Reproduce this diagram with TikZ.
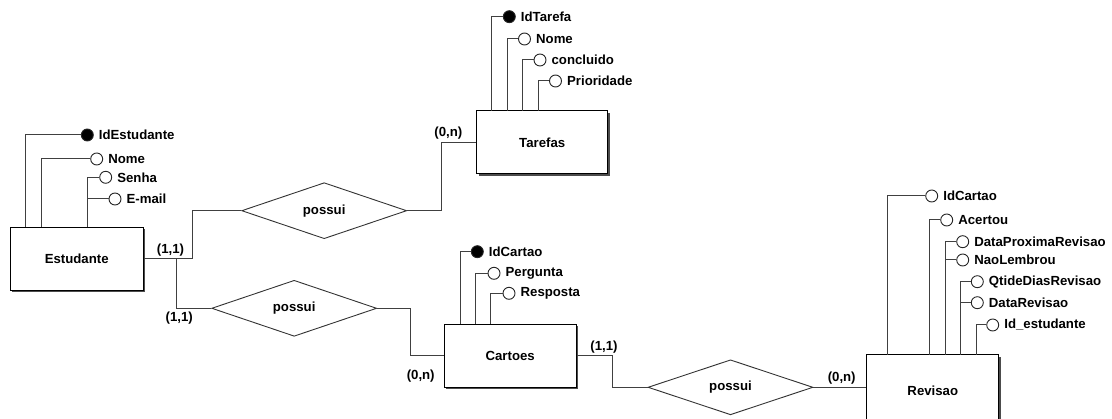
\documentclass[tikz,border=0pt]{standalone}
\usepackage{fontspec}
\setmainfont{Liberation Sans}
\usetikzlibrary{shapes.geometric,shadows}
\newcommand\erattr[7]{%
  \coordinate (#1-base) at (#2,#3);
  \node[attcirc,#7] (#1) at (#5,#4) {};
  \node[attlabel] (#1-l) at (#1.east) {#6};
  \draw[conn] (#1.west) -| (#1-base);
}
\begin{document}
\begin{tikzpicture}[x=1pt,y=-1pt,
  every node/.style={font=\fontsize{13.2}{15}\selectfont\bfseries},
  entity/.style={draw=black,line width=1pt,fill=white,rectangle,minimum width=133pt,minimum height=63pt,inner sep=0pt,
    drop shadow={shadow xshift=2pt,shadow yshift=-2pt,fill=black!70,opacity=1}},
  rel/.style={draw=black!80,line width=0.9pt,fill=white,diamond,minimum width=165pt,minimum height=56pt,inner sep=0pt},
  conn/.style={draw=black!75,line width=1pt},
  attcirc/.style={circle,draw=black!85,line width=0.9pt,fill=white,minimum size=12pt,inner sep=0pt},
  key/.style={fill=black},
  attlabel/.style={anchor=west,inner sep=0pt,xshift=5pt},
  card/.style={inner sep=0pt}]
\useasboundingbox (0,0) rectangle (1112,419);

% entities
\node[entity] (est) at (76.7,259) {Estudante};
\node[entity,minimum width=131pt] (tar) at (542.2,142.5) {Tarefas};
\node[entity,minimum width=132pt] (cart) at (510.2,355.8) {Cartoes};
\node[entity,minimum width=132pt,minimum height=72pt] (rev) at (932.8,391) {Revisao};

% relationships
\node[rel] (r1) at (324.2,210.7) {possui};
\node[rel] (r2) at (294.2,308.3) {possui};
\node[rel,minimum height=55pt] (r3) at (730.5,387.3) {possui};

% attributes of Estudante
\erattr{e1}{25.7}{227.5}{135}{87.3}{IdEstudante}{key}
\erattr{e2}{41}{227.5}{159}{96.7}{Nome}{}
\erattr{e3}{87.7}{227.5}{177.3}{105.7}{Senha}{}
\erattr{e4}{87.7}{227.5}{199}{115}{E-mail}{}

% attributes of Tarefas
\erattr{t1}{491.7}{111}{16.7}{509.3}{IdTarefa}{key}
\erattr{t2}{507.3}{111}{39}{524.5}{Nome}{}
\erattr{t3}{522.7}{111}{60}{540}{concluido}{}
\erattr{t4}{538.3}{111}{81}{555.5}{Prioridade}{}

% attributes of Cartoes
\erattr{c1}{460}{324.3}{251.7}{477.3}{IdCartao}{key}
\erattr{c2}{475}{324.3}{273.3}{494}{Pergunta}{}
\erattr{c3}{490.7}{324.3}{293.3}{509}{Resposta}{}

% attributes of Revisao
\erattr{v1}{887.3}{355}{196}{931.7}{IdCartao}{}
\erattr{v2}{929}{355}{220}{946.7}{Acertou}{}
\erattr{v3}{945}{355}{241.7}{962.7}{DataProximaRevisao}{}
\erattr{v4}{945}{355}{260}{962.7}{NaoLembrou}{}
\erattr{v5}{960}{355}{281.7}{977.3}{QtideDiasRevisao}{}
\erattr{v6}{960}{355}{302.7}{977.3}{DataRevisao}{}
\erattr{v7}{976}{355}{325}{992.7}{Id\_estudante}{}

% connectors
\coordinate (j1) at (176,259);
\draw[conn] (est.east) -- ++(48.4,0) |- (r1.west);
\draw[conn] (j1) |- (r2.west);
\draw[conn] (r1.east) -- ++(34.3,0) |- (tar.west);
\draw[conn] (r2.east) -- ++(33,0) |- (cart.west);
\draw[conn] (cart.east) -- ++(35.7,0) |- (r3.west);
\draw[conn] (r3.east) -- (r3.east -| rev.west);

% cardinalities
\node[card] (k1) at (170.5,250) {(1,1)};
\node[card] (k2) at (179.3,318.5) {(1,1)};
\node[card] (k3) at (448.3,133.3) {(0,n)};
\node[card] (k4) at (420.7,376) {(0,n)};
\node[card] (k5) at (604,346.7) {(1,1)};
\node[card] (k6) at (841.7,378.3) {(0,n)};
\end{tikzpicture}
\end{document}
